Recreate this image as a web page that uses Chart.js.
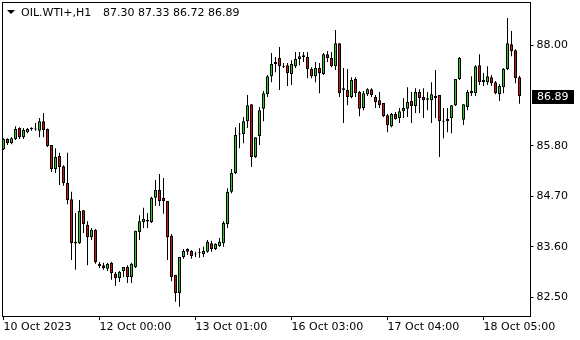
<!DOCTYPE html>
<html>
<head>
<meta charset="utf-8">
<script src="https://cdn.jsdelivr.net/npm/chart.js@4"></script>
<style>
  html, body { margin: 0; padding: 0; background: #fff; }
  canvas { display: block; }
</style>
</head>
<body>
<canvas id="chart" width="580" height="340"></canvas>
<script>
'use strict';

// OIL.WTI+ H1 candles
let symbol = 'OIL.WTI+,H1';

let opens = [
  85.73, 85.95, 85.86, 85.95, 86.19, 85.99, 86.10, 86.17, 86.16, 86.13,
  86.34, 86.17, 85.82, 85.30, 85.58, 85.36, 84.99, 84.64, 83.71, 83.68,
  84.40, 84.08, 83.81, 83.97, 83.23, 83.20, 83.12, 83.25, 83.01, 82.92,
  83.07, 83.16, 82.94, 83.16, 83.92, 84.14, 84.19, 84.14, 84.67, 84.84,
  84.67, 84.60, 83.84, 82.99, 82.59, 83.38, 83.55, 83.51, 83.43, 83.46,
  83.44, 83.49, 83.68, 83.55, 83.62, 83.68, 84.10, 84.80, 85.21, 86.06,
  86.06, 86.34, 86.71, 85.56, 86.02, 86.61, 86.93, 87.32, 87.59, 87.72,
  87.54, 87.56, 87.37, 87.54, 87.70, 87.78, 87.74, 87.48, 87.32, 87.50,
  87.37, 87.80, 87.72, 87.54, 88.04, 87.02, 87.02, 86.87, 87.26, 86.98,
  86.63, 86.93, 87.04, 86.87, 86.80, 86.74, 86.47, 86.23, 86.50, 86.41,
  86.56, 86.61, 86.78, 86.67, 86.98, 86.87, 86.84, 86.80, 86.89, 86.91,
  86.34, 86.34, 86.41, 86.69, 87.26, 86.37, 86.65, 87.00, 86.95, 87.56,
  87.24, 87.19, 87.30, 87.19, 86.93, 87.08, 87.48, 88.02, 87.89, 87.30
];
let highs = [
  85.97, 85.97, 85.99, 86.23, 86.21, 86.19, 86.19, 86.21, 86.30, 86.41,
  86.52, 86.18, 85.82, 85.75, 85.65, 85.38, 85.65, 84.80, 84.34, 84.62,
  84.40, 84.16, 84.01, 83.99, 83.27, 83.25, 83.25, 83.27, 83.05, 83.07,
  83.16, 83.20, 83.25, 83.95, 84.29, 84.45, 84.34, 84.69, 85.06, 85.19,
  85.10, 84.60, 83.88, 82.99, 83.38, 83.55, 83.57, 83.53, 83.49, 83.57,
  83.60, 83.75, 83.73, 83.68, 83.79, 84.16, 84.88, 85.30, 86.21, 86.30,
  86.43, 86.91, 86.71, 85.99, 86.65, 87.00, 87.35, 87.83, 87.74, 87.96,
  87.61, 87.61, 87.67, 87.85, 87.85, 87.85, 87.85, 87.52, 87.63, 87.61,
  87.83, 87.87, 87.85, 88.33, 88.04, 87.50, 87.48, 87.30, 87.30, 87.00,
  87.00, 87.06, 87.06, 86.91, 86.98, 86.74, 86.50, 86.52, 86.54, 86.63,
  86.84, 87.08, 86.98, 87.06, 87.04, 87.06, 86.98, 87.19, 87.46, 86.91,
  86.63, 86.63, 86.69, 87.26, 87.74, 86.71, 87.02, 87.32, 87.56, 87.80,
  87.39, 87.54, 87.35, 87.22, 87.15, 87.50, 88.59, 88.31, 87.91, 87.33
];
let lows = [
  85.71, 85.82, 85.84, 85.93, 85.95, 85.95, 86.08, 86.13, 86.13, 85.99,
  85.99, 85.78, 85.23, 85.21, 84.95, 84.93, 84.53, 83.31, 83.10, 83.66,
  83.90, 83.20, 83.75, 83.23, 83.14, 83.10, 83.07, 82.88, 82.75, 82.83,
  82.94, 82.81, 82.81, 83.14, 83.75, 84.01, 84.01, 84.12, 84.49, 84.49,
  84.32, 83.31, 82.85, 82.40, 82.29, 83.34, 83.42, 83.34, 83.38, 83.36,
  83.38, 83.47, 83.49, 83.53, 83.60, 83.60, 84.01, 84.77, 85.19, 85.75,
  85.86, 86.19, 85.34, 85.54, 85.82, 86.34, 86.87, 87.19, 87.41, 87.02,
  87.50, 87.11, 87.13, 87.50, 87.56, 87.63, 87.28, 87.28, 87.19, 86.95,
  87.35, 87.63, 87.52, 87.46, 86.87, 86.30, 86.69, 86.84, 86.87, 86.45,
  86.58, 86.89, 86.87, 86.63, 86.63, 86.43, 86.10, 86.21, 86.37, 86.30,
  86.41, 86.43, 86.30, 86.52, 86.52, 86.41, 86.58, 86.30, 86.41, 85.56,
  85.97, 86.10, 86.08, 86.67, 87.24, 86.26, 86.58, 86.89, 86.89, 87.13,
  87.11, 87.13, 87.11, 86.93, 86.78, 86.95, 87.46, 87.76, 87.17, 86.72
];
let closes = [
  85.95, 85.86, 85.97, 86.17, 85.99, 86.15, 86.17, 86.18, 86.17, 86.34,
  86.15, 85.80, 85.30, 85.56, 85.34, 84.99, 84.62, 83.68, 83.67, 84.38,
  84.10, 83.81, 83.97, 83.27, 83.18, 83.14, 83.23, 83.03, 82.92, 83.05,
  83.16, 82.94, 83.23, 83.95, 84.16, 84.21, 84.15, 84.67, 84.84, 84.60,
  84.60, 83.81, 82.94, 82.59, 83.38, 83.51, 83.49, 83.40, 83.44, 83.47,
  83.51, 83.71, 83.55, 83.66, 83.71, 84.12, 84.80, 85.21, 86.04, 86.05,
  86.34, 86.69, 85.56, 85.99, 86.58, 86.95, 87.32, 87.59, 87.63, 87.54,
  87.53, 87.39, 87.59, 87.70, 87.76, 87.74, 87.48, 87.32, 87.50, 87.39,
  87.80, 87.72, 87.54, 88.04, 86.95, 87.06, 86.87, 87.24, 86.95, 86.61,
  86.95, 87.04, 86.91, 86.76, 86.69, 86.45, 86.26, 86.50, 86.39, 86.56,
  86.63, 86.76, 86.67, 86.98, 86.84, 86.80, 86.81, 86.93, 86.84, 86.34,
  86.33, 86.39, 86.69, 87.26, 87.72, 86.71, 86.98, 86.95, 87.54, 87.19,
  87.19, 87.32, 87.17, 86.95, 87.11, 87.48, 88.04, 87.87, 87.28, 86.89
];

// time axis labels sit on these candles
let tickIndex = [0, 24, 48, 72, 96, 120];
let tickLabels = ['10 Oct 2023', '12 Oct 00:00', '13 Oct 01:00', '16 Oct 03:00', '17 Oct 04:00', '18 Oct 05:00'];

// price axis labels (86.90 is hidden under the current price box)
let priceTicks = [82.50, 83.60, 84.70, 85.80, 88.00];

let upColor = '#22cc22';
let downColor = '#cc1111';
let font = { family: 'DejaVu Sans', size: 11 };

Chart.defaults.color = '#000';
Chart.defaults.font.family = font.family;
Chart.defaults.font.size = font.size;

let last = closes.length - 1;

// wick = low..high, body = open..close
let wicks = [];
let bodies = [];
let bodyColors = [];
for (let i = 0; i < opens.length; i++) {
  wicks.push({ x: i, y: [lows[i], highs[i]] });
  bodies.push({ x: i, y: [opens[i], closes[i]] });
  bodyColors.push(closes[i] >= opens[i] ? upColor : downColor);
}

// frame, header text and the price box
let overlay = {
  id: 'overlay',
  afterDraw(chart) {
    let ctx = chart.ctx;
    let a = chart.chartArea;
    let y = chart.scales.y;
    ctx.save();

    ctx.strokeStyle = '#000';
    ctx.lineWidth = 1;
    ctx.strokeRect(a.left + 1, a.top - 0.5, a.right - a.left, a.bottom - a.top + 1);

    // little down arrow + symbol and last OHLC
    ctx.fillStyle = '#000';
    ctx.beginPath();
    ctx.moveTo(7, 10);
    ctx.lineTo(15, 10);
    ctx.lineTo(11, 14);
    ctx.closePath();
    ctx.fill();

    ctx.font = font.size + 'px ' + font.family;
    ctx.textBaseline = 'middle';
    ctx.textAlign = 'left';
    ctx.fillText(symbol, 21, 13);
    let ohlc = [opens[last], highs[last], lows[last], closes[last]].map(v => v.toFixed(2)).join(' ');
    ctx.fillText(ohlc, 103, 13);

    // current price label on the right axis
    let py = Math.round(y.getPixelForValue(closes[last]));
    ctx.fillStyle = '#000';
    ctx.fillRect(532, py - 6, 42, 14);
    ctx.fillStyle = '#fff';
    ctx.fillText(closes[last].toFixed(2), 537, py + 1);

    ctx.restore();
  }
};

let config = {
  type: 'bar',
  data: {
    datasets: [
      {
        label: 'body',
        data: bodies,
        backgroundColor: bodyColors,
        borderColor: '#000',
        borderWidth: 1,
        borderSkipped: false,
        barThickness: 3,
        minBarLength: 1,
        inflateAmount: 0,
        grouped: false,
        order: 0
      },
      {
        label: 'wick',
        data: wicks,
        backgroundColor: '#000',
        borderWidth: 0,
        barThickness: 1,
        inflateAmount: 0,
        grouped: false,
        order: 1
      }
    ]
  },
  options: {
    responsive: false,
    animation: false,
    layout: { padding: { top: 3, left: 1.5, right: 0, bottom: 0 } },
    plugins: {
      legend: { display: false },
      tooltip: { enabled: false }
    },
    scales: {
      x: {
        type: 'linear',
        offset: false,
        min: -0.5,
        max: 131.5,
        border: { display: false },
        grid: { offset: false, drawOnChartArea: false, drawTicks: true, tickLength: 4, tickColor: '#000' },
        afterBuildTicks: scale => {
          scale.ticks = tickIndex.map(v => ({ value: v }));
        },
        afterFit: scale => {
          scale.height = 24;
          scale.paddingLeft = 0;
          scale.paddingRight = 0;
        },
        ticks: {
          autoSkip: false,
          maxRotation: 0,
          align: 'start',
          padding: 1,
          color: '#000',
          font: font,
          callback: value => tickLabels[tickIndex.indexOf(value)]
        }
      },
      y: {
        position: 'right',
        min: 82.09,
        max: 88.92,
        border: { display: false },
        grid: { drawOnChartArea: false, drawTicks: true, tickLength: 4, tickColor: '#000' },
        afterBuildTicks: scale => {
          scale.ticks = priceTicks.map(v => ({ value: v }));
        },
        afterFit: scale => {
          scale.width = 50.5;
          scale.paddingTop = 0;
          scale.paddingBottom = 0;
        },
        ticks: {
          padding: 3,
          color: '#000',
          font: font,
          callback: value => value.toFixed(2)
        }
      }
    }
  },
  plugins: [overlay]
};

new Chart(document.getElementById('chart'), config);
</script>
</body>
</html>
